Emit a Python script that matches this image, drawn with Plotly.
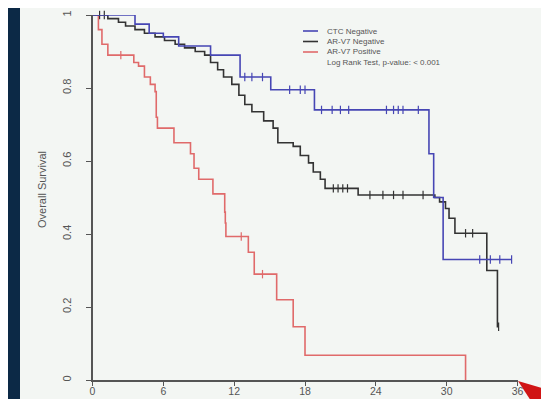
import plotly.graph_objects as go

# ---------------- data (months, survival probability) ----------------
ctc_neg_t = [0, 3.6, 4.8, 6.0, 7.3, 10.0, 12.5, 15.1, 18.8, 28.5, 28.9, 29.7, 35.5]
ctc_neg_s = [1.0, 0.975, 0.95, 0.94, 0.915, 0.89, 0.83, 0.795, 0.74, 0.62, 0.50, 0.33, 0.33]
ctc_neg_cens_t = [12.9, 13.5, 14.4, 16.7, 17.6, 18.0, 19.4, 20.3, 21.0, 21.7, 24.9, 25.5, 25.9, 26.3, 27.6,
                  32.8, 33.7, 34.5, 35.5]
ctc_neg_cens_s = [0.83, 0.83, 0.83, 0.795, 0.795, 0.795, 0.74, 0.74, 0.74, 0.74, 0.74, 0.74, 0.74, 0.74, 0.74,
                  0.33, 0.33, 0.33, 0.33]

arv7_neg_t = [0, 1.3, 2.2, 2.8, 3.6, 4.4, 5.3, 6.1, 7.0, 7.8, 8.7, 9.5, 10.0, 10.6, 11.1, 11.8, 12.4, 12.9,
              13.5, 14.5, 15.3, 15.7, 17.0, 17.6, 18.3, 18.7, 19.3, 19.7, 22.5, 29.0, 29.4, 29.9, 30.2, 30.7,
              33.4, 34.3, 34.4]
arv7_neg_s = [1.0, 0.99, 0.98, 0.97, 0.96, 0.95, 0.94, 0.93, 0.92, 0.91, 0.90, 0.89, 0.87, 0.85, 0.83, 0.81,
              0.78, 0.755, 0.735, 0.71, 0.69, 0.65, 0.64, 0.615, 0.595, 0.57, 0.55, 0.525, 0.507, 0.50, 0.488,
              0.47, 0.443, 0.402, 0.30, 0.146, 0.146]
arv7_neg_cens_t = [0.6, 1.0, 20.4, 20.8, 21.2, 21.6, 23.5, 24.6, 25.5, 26.3, 28.0, 31.6, 32.2, 34.4]
arv7_neg_cens_s = [1.0, 1.0, 0.525, 0.525, 0.525, 0.525, 0.507, 0.507, 0.507, 0.507, 0.507, 0.402, 0.402, 0.146]

arv7_pos_t = [0, 0.5, 0.8, 1.3, 3.5, 3.9, 4.4, 4.9, 5.3, 5.4, 5.5, 6.9, 8.3, 8.6, 9.0, 10.2, 11.2, 11.25, 11.3,
              13.2, 13.7, 15.6, 17.0, 18.0, 31.6]
arv7_pos_s = [1.0, 0.96, 0.92, 0.89, 0.87, 0.86, 0.83, 0.81, 0.79, 0.72, 0.69, 0.65, 0.62, 0.58, 0.55, 0.51,
              0.46, 0.43, 0.393, 0.35, 0.29, 0.22, 0.146, 0.068, 0.0]
arv7_pos_cens_t = [2.4, 12.6, 14.4]
arv7_pos_cens_s = [0.89, 0.393, 0.29]

x_ticks = [0, 6, 12, 18, 24, 30, 36]
y_ticks = [0, 0.2, 0.4, 0.6, 0.8, 1.0]
y_tick_text = ["0", "0.2", "0.4", "0.6", "0.8", "1"]

legend_names = ["CTC Negative", "AR-V7 Negative", "AR-V7 Positive"]
legend_note = "Log Rank Test, p-value: < 0.001"

BLUE = "#4646b4"
BLACK = "#333333"
RED = "#e06a6a"
GREY = "#555555"

# the page keeps an 8 px margin round the figure, so the figure is sized to fit exactly
OFF = 8
W, H = 549 - 2 * OFF, 407 - 2 * OFF


def px_x(p):
    return (p - OFF) / W


def px_y(p):
    return 1 - (p - OFF) / H


fig = go.Figure()
series = [
    (arv7_pos_t, arv7_pos_s, arv7_pos_cens_t, arv7_pos_cens_s, RED),
    (arv7_neg_t, arv7_neg_s, arv7_neg_cens_t, arv7_neg_cens_s, BLACK),
    (ctc_neg_t, ctc_neg_s, ctc_neg_cens_t, ctc_neg_cens_s, BLUE),
]
for t, s, ct, cs, col in series:
    fig.add_trace(go.Scatter(x=t, y=s, mode="lines", line=dict(color=col, width=1.6, shape="hv"),
                             cliponaxis=False, showlegend=False, hoverinfo="skip"))
    fig.add_trace(go.Scatter(x=ct, y=cs, mode="markers", cliponaxis=False, showlegend=False,
                             marker=dict(symbol="line-ns", size=6, line=dict(color=col, width=1.2)),
                             hoverinfo="skip"))

shapes = [
    # light slide panel
    dict(type="rect", xref="paper", yref="paper", x0=px_x(20), x1=1.05, y0=-0.05, y1=px_y(7),
         fillcolor="#f3f6f3", line=dict(width=0), layer="below"),
    # red pointer in the corner
    dict(type="path", xref="paper", yref="paper",
         path=f"M {px_x(518)} {px_y(381)} L {px_x(545)} {px_y(389)} L {px_x(545)} {px_y(404)} "
              f"L {px_x(533)} {px_y(404)} Z",
         fillcolor="#d01515", line=dict(width=0), layer="above"),
]
annotations = []
leg_cols = [BLUE, BLACK, RED]
leg_y = [31, 41.5, 52, 62.5]
for i, name in enumerate(legend_names):
    shapes.append(dict(type="line", xref="paper", yref="paper", x0=px_x(303), x1=px_x(318),
                       y0=px_y(leg_y[i]), y1=px_y(leg_y[i]), line=dict(color=leg_cols[i], width=1.6)))
    annotations.append(dict(text=name, xref="paper", yref="paper", x=px_x(325), y=px_y(leg_y[i]),
                            xanchor="left", yanchor="middle", showarrow=False,
                            font=dict(size=8, color=GREY, family="Liberation Sans")))
annotations.append(dict(text=legend_note, xref="paper", yref="paper", x=px_x(325), y=px_y(leg_y[3]),
                        xanchor="left", yanchor="middle", showarrow=False,
                        font=dict(size=8, color=GREY, family="Liberation Sans")))
annotations.append(dict(text="Overall Survival", xref="paper", yref="paper", x=px_x(42), y=px_y(190),
                        textangle=-90, xanchor="center", yanchor="middle", showarrow=False,
                        font=dict(size=11, color=GREY, family="Liberation Sans")))

fig.update_layout(
    width=W, height=H,
    margin=dict(l=0, r=0, t=0, b=0),
    paper_bgcolor="#0c2946",
    plot_bgcolor="rgba(0,0,0,0)",
    shapes=shapes,
    annotations=annotations,
    xaxis=dict(domain=[px_x(92.5), px_x(517.5)], range=[0, 36], tickvals=x_ticks,
               ticks="outside", ticklen=4, tickcolor=GREY, tickwidth=1.2, automargin=False,
               ticklabelstandoff=-3,
               showline=True, linecolor=GREY, linewidth=1.5, showgrid=False, zeroline=False,
               tickfont=dict(size=10.5, color=GREY, family="Liberation Sans"), fixedrange=True),
    yaxis=dict(domain=[px_y(380), px_y(15)], range=[0, 1], tickvals=y_ticks, ticktext=y_tick_text,
               tickangle=-90, ticks="outside", ticklen=5, tickcolor=GREY, tickwidth=1.2, automargin=False,
               ticklabelstandoff=10,
               showline=True, linecolor=GREY, linewidth=1.5, showgrid=False, zeroline=False,
               tickfont=dict(size=11, color=GREY, family="Liberation Sans"), fixedrange=True),
)

fig.write_html("out.html")
